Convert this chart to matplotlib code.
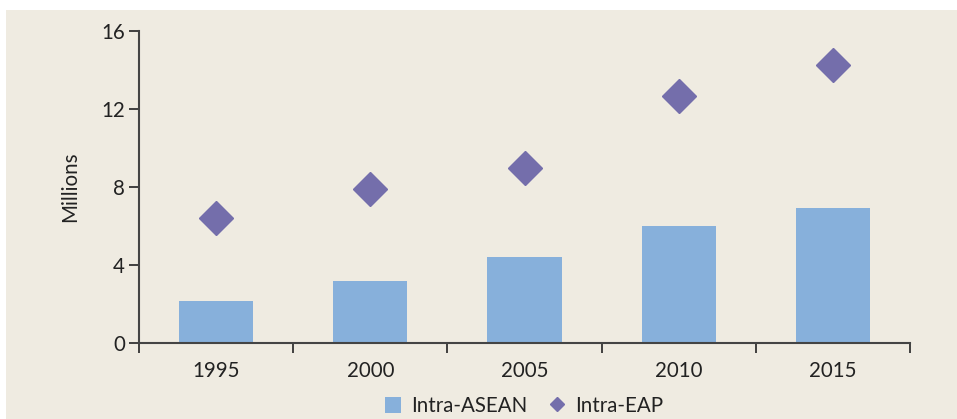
import matplotlib.pyplot as plt
from matplotlib.patches import Rectangle
from matplotlib.lines import Line2D
import numpy as np

years = ["1995", "2000", "2005", "2010", "2015"]
intra_asean = [2.15, 3.18, 4.41, 6.0, 6.92]
intra_eap = [6.41, 7.9, 8.97, 12.68, 14.24]

bg = "#efebe1"
bar_col = "#87b0db"
dia_col = "#746eab"
ink = "#222222"
fs = 14.8

plt.rcParams['font.family'] = ['Lato', 'DejaVu Sans']

fig = plt.figure(figsize=(9.57, 4.19), dpi=100, facecolor="white")
fig.patches.append(Rectangle((6 / 957, 0), 1, 1 - 10 / 419, transform=fig.transFigure,
                             facecolor=bg, edgecolor="none", zorder=-5))
ax = fig.add_axes([139 / 957, 1 - 343 / 419, (910 - 139) / 957, (343 - 31) / 419])
ax.set_facecolor("none")

x = np.arange(len(years))
ax.bar(x, intra_asean, width=0.48, color=bar_col, zorder=2)
ax.plot(x, intra_eap, linestyle="none", marker="D", markersize=17, color=dia_col, zorder=3)

ax.set_xlim(-0.5, len(years) - 0.5)
ax.set_ylim(0, 16)
ax.set_yticks([0, 4, 8, 12, 16])
ax.set_xticks(x)
ax.set_xticklabels(years)
ax.set_xticks(np.arange(len(years) + 1) - 0.5, minor=True)
ax.tick_params(axis="x", which="major", length=0, pad=13, labelsize=fs, colors=ink)
ax.tick_params(axis="x", which="minor", length=7, width=1.3, direction="out", color="#333333")
ax.tick_params(axis="y", length=7, width=1.3, pad=3, labelsize=fs, colors=ink)
ax.tick_params(axis="y", color="#333333")

for s in ["top", "right"]:
    ax.spines[s].set_visible(False)
for s in ["left", "bottom"]:
    ax.spines[s].set_linewidth(1.5)
    ax.spines[s].set_color("#444444")

ax.set_ylabel("Millions", fontsize=fs, color=ink, labelpad=15)

handles = [Rectangle((0, 0), 1, 1, facecolor=bar_col, edgecolor="none"),
           Line2D([], [], linestyle="none", marker="D", markersize=7, color=dia_col)]
fig.legend(handles, ["Intra-ASEAN", "Intra-EAP"], loc="center", bbox_to_anchor=(524 / 957, 1 - 406 / 419),
           ncol=2, frameon=False, fontsize=fs, handlelength=0.8, handleheight=0.8,
           handletextpad=0.5, columnspacing=1.0, labelcolor=ink)

fig.savefig("out.png", dpi=100, facecolor="white")
